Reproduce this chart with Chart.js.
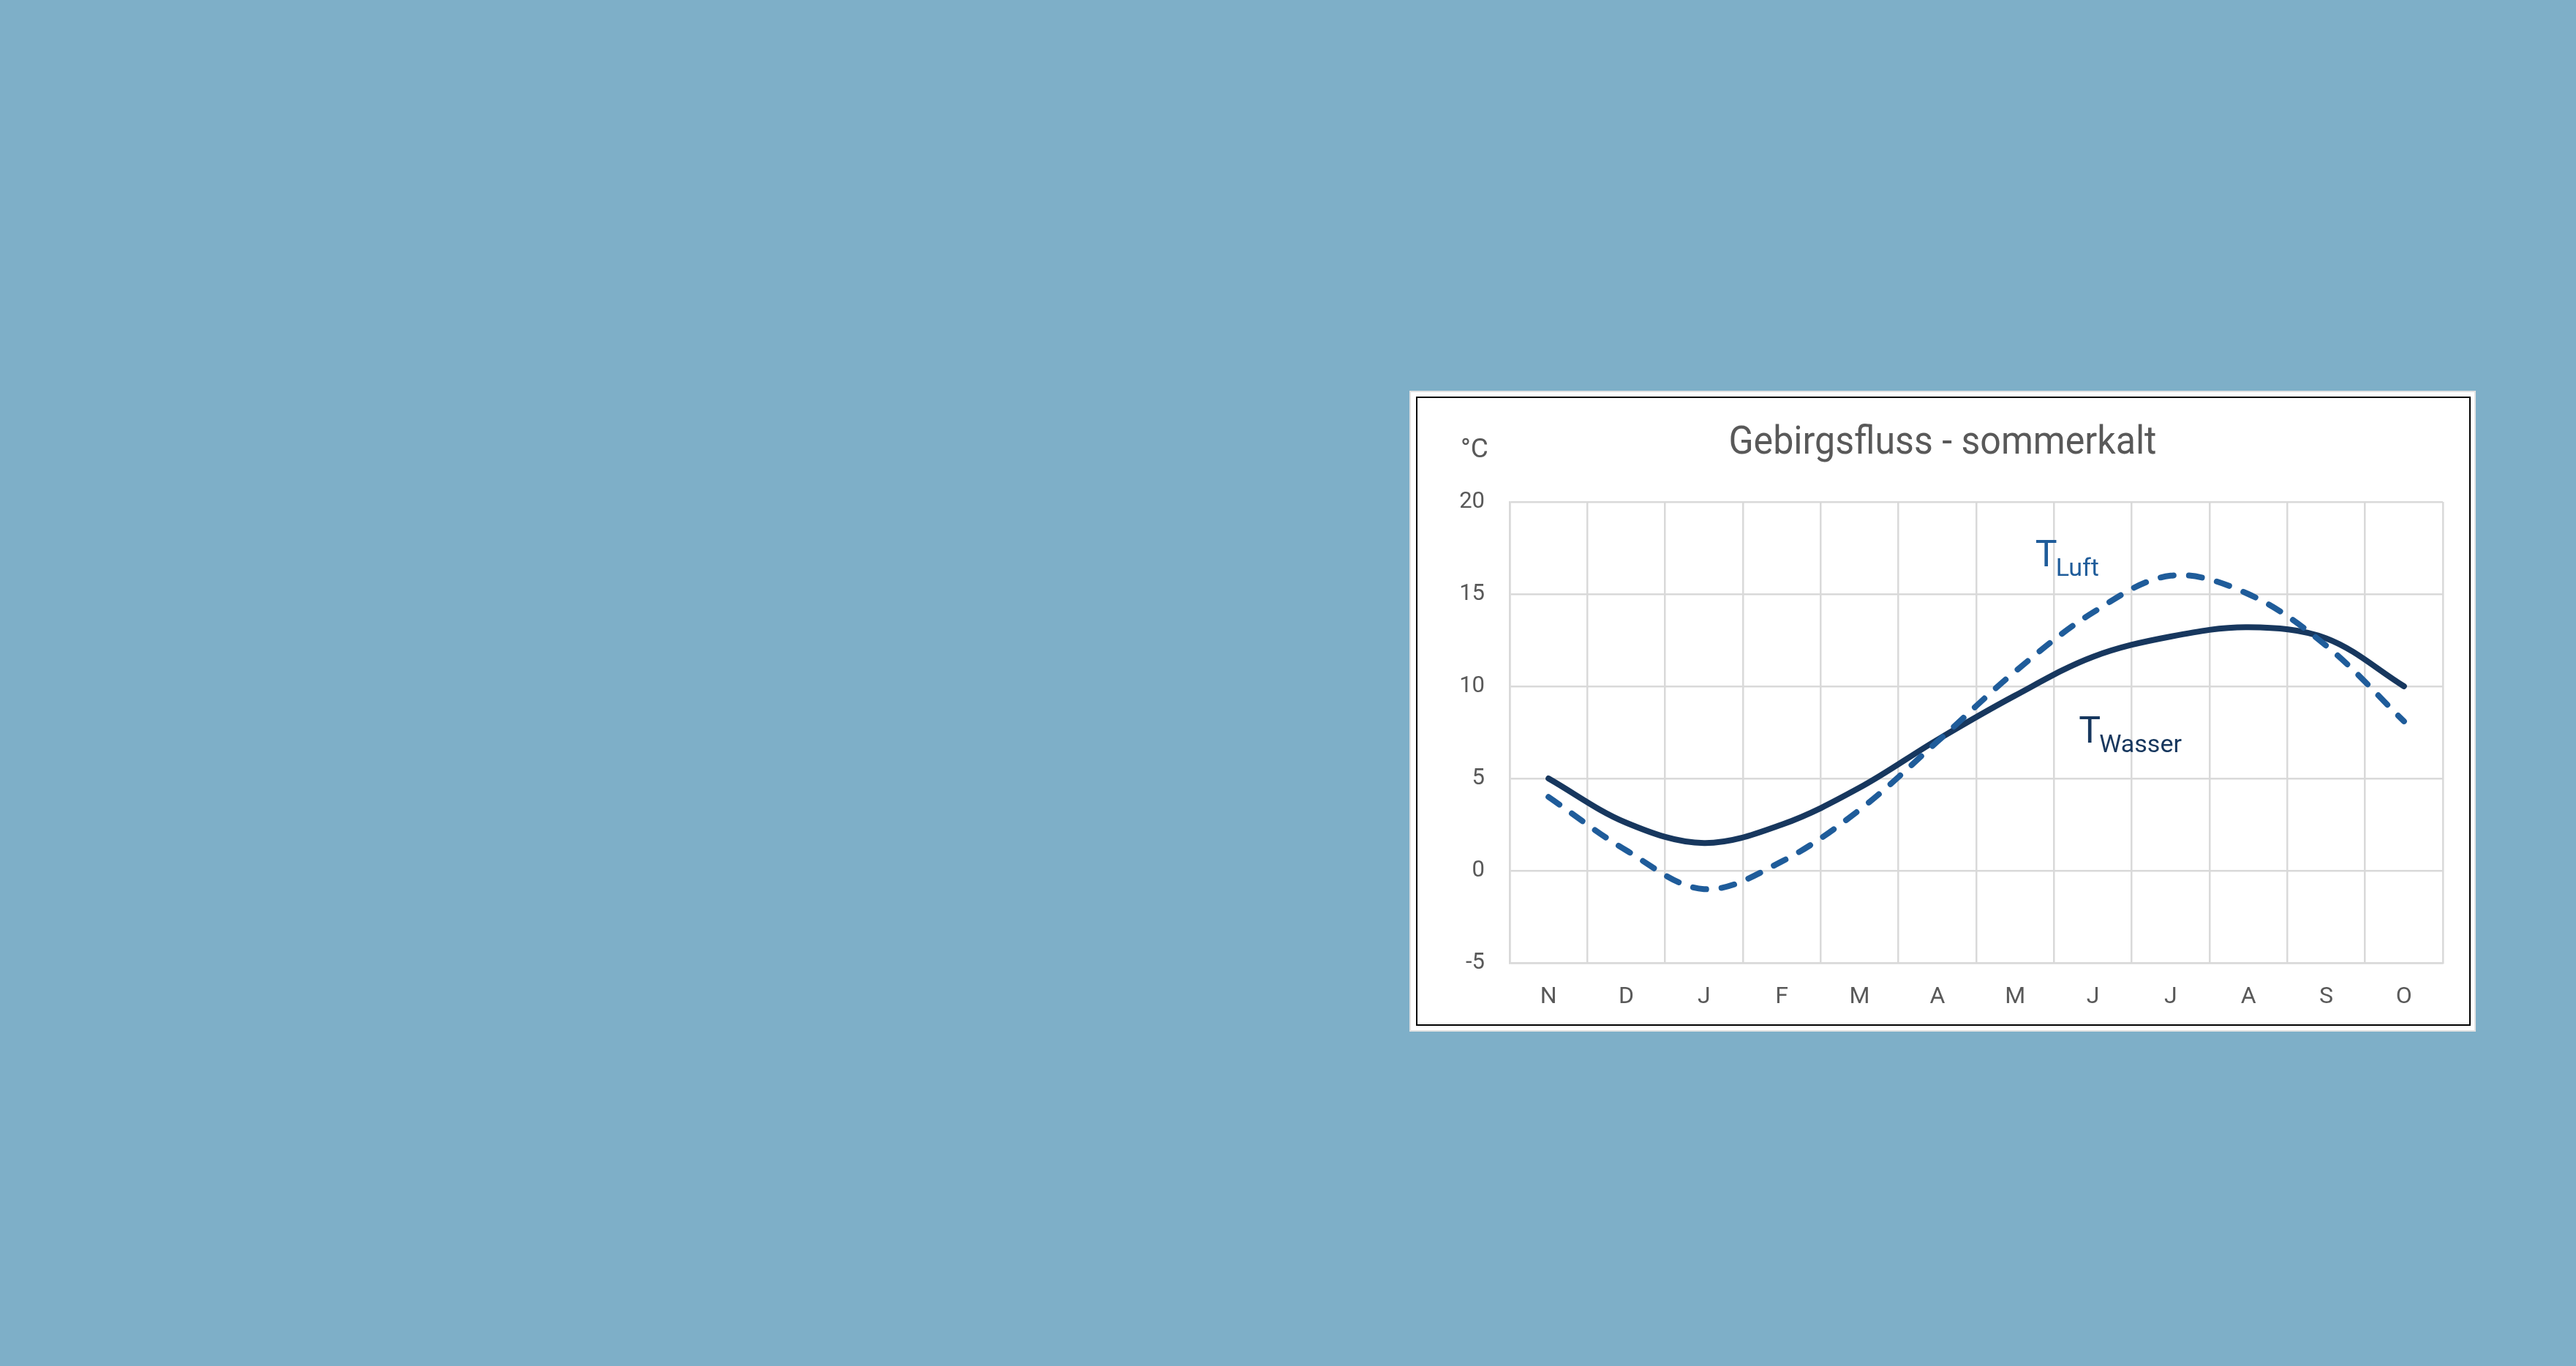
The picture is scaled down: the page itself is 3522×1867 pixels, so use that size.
<!DOCTYPE html>
<html>
<head>
<meta charset="utf-8">
<script src="https://cdn.jsdelivr.net/npm/chart.js@4"></script>
<style>
  html, body { margin: 0; padding: 0; }
  body { width: 3522px; height: 1867px; background: #7eafc8; position: relative; overflow: hidden; }
  #frame { position: absolute; left: 1927px; top: 534px; width: 1454px; height: 872px; background: #fff; border: 2px solid #e2e2e2; }
  #inner { position: absolute; left: 1936px; top: 542px; width: 1442px; height: 860px; border: 2.5px solid #000; box-sizing: border-box; }
  #myChart { position: absolute; left: 1940px; top: 546px; }
</style>
</head>
<body>
<div id="frame"></div>
<div id="inner"></div>
<canvas id="myChart" width="1434" height="852"></canvas>
<script>
const months = ['N', 'D', 'J', 'F', 'M', 'A', 'M', 'J', 'J', 'A', 'S', 'O'];
const tWasser = [5.0, 2.6, 1.5, 2.5, 4.5, 7.1, 9.5, 11.6, 12.7, 13.2, 12.6, 10.0];
const tLuft = [4.0, 1.1, -1.0, 0.5, 3.3, 7.0, 10.8, 14.0, 16.0, 15.0, 12.2, 8.1];
const yTicks = [-5, 0, 5, 10, 15, 20];

const titleText = 'Gebirgsfluss - sommerkalt';
const unitText = '°C';
// where the series labels sit, in data units (x = month index, y = °C at the baseline)
const luftLabel = { x: 6.26, y: 16.5, main: 'T', sub: 'Luft', color: '#1f5c9a' };
const wasserLabel = { x: 6.82, y: 6.94, main: 'T', sub: 'Wasser', color: '#17375e' };

const textPlugin = {
    id: 'texts',
    afterDraw(chart) {
        const ctx = chart.ctx;
        ctx.save();
        ctx.fillStyle = '#595959';
        ctx.textBaseline = 'alphabetic';
        ctx.textAlign = 'center';
        ctx.font = '54px Roboto';
        ctx.fillText(titleText, 716, 74, 585);
        ctx.textAlign = 'left';
        ctx.font = '37px Roboto';
        ctx.fillText(unitText, 57, 79);

        [luftLabel, wasserLabel].forEach(l => {
            const px = chart.scales.x.getPixelForValue(l.x);
            const py = chart.scales.y.getPixelForValue(l.y);
            ctx.fillStyle = l.color;
            ctx.font = '50px Roboto';
            ctx.fillText(l.main, px, py);
            const w = ctx.measureText(l.main).width;
            ctx.font = '34px Roboto';
            ctx.fillText(l.sub, px + w - 2, py + 13);
        });
        ctx.restore();
    }
};

const ctx = document.getElementById('myChart').getContext('2d');
new Chart(ctx, {
    type: 'line',
    data: {
        labels: months,
        datasets: [
            {
                label: 'TLuft',
                data: tLuft,
                borderColor: '#1f5c9a',
                borderWidth: 8,
                borderDash: [18, 21],
                borderCapStyle: 'round',
                pointRadius: 0,
                tension: 0.35,
                fill: false
            },
            {
                label: 'TWasser',
                data: tWasser,
                borderColor: '#17375e',
                borderWidth: 8,
                borderCapStyle: 'round',
                pointRadius: 0,
                tension: 0.35,
                fill: false
            }
        ]
    },
    options: {
        responsive: false,
        animation: false,
        devicePixelRatio: 1,
        layout: { padding: { top: 140, right: 34, left: 0, bottom: 0 } },
        plugins: { legend: { display: false }, tooltip: { enabled: false }, title: { display: false } },
        scales: {
            x: {
                offset: true,
                grid: { color: '#d9d9d9', lineWidth: 2.5, drawTicks: false, offset: true },
                border: { color: '#d9d9d9', width: 2.5 },
                ticks: { color: '#595959', font: { family: 'Roboto', size: 32 }, padding: 28, maxRotation: 0 },
                afterFit(s) { s.height = 82; }
            },
            y: {
                min: -5,
                max: 20,
                afterBuildTicks(s) { s.ticks = yTicks.map(v => ({ value: v })); },
                grid: { color: '#d9d9d9', lineWidth: 2.5, drawTicks: false },
                border: { color: '#d9d9d9', width: 2.5 },
                ticks: { color: '#595959', font: { family: 'Roboto', size: 31 }, padding: 34 },
                afterFit(s) { s.width = 124; }
            }
        }
    },
    plugins: [textPlugin]
});
</script>
</body>
</html>
